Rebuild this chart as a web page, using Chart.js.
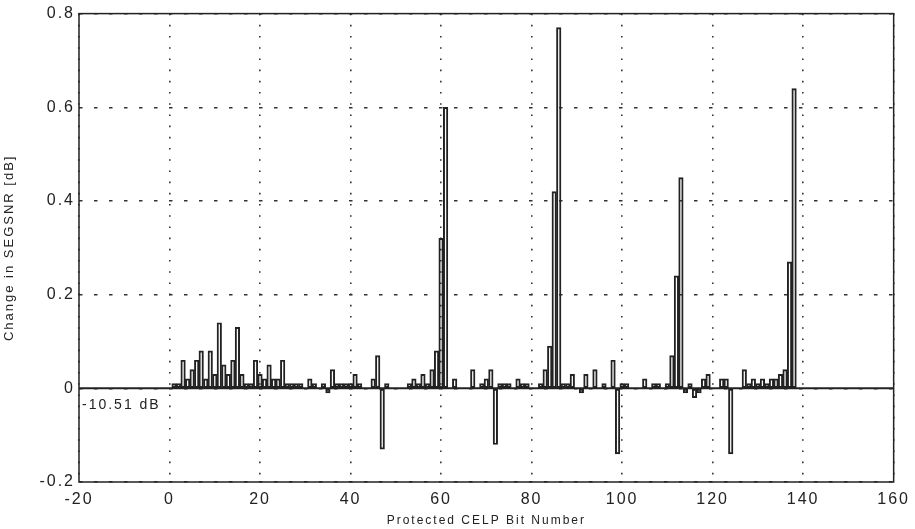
<!DOCTYPE html>
<html>
<head>
<meta charset="utf-8">
<script src="https://cdn.jsdelivr.net/npm/chart.js@4"></script>
<style>
  html, body { margin: 0; padding: 0; background: #ffffff; }
</style>
</head>
<body>
<canvas id="myChart" width="915" height="529"></canvas>
<script>
// bit numbers along the x axis
var bitNumbers = [
  1, 2, 3, 4, 5, 6, 7, 8, 9, 10,
  11, 12, 13, 14, 15, 16, 17, 18, 19, 20,
  21, 22, 23, 24, 25, 26, 27, 28, 29, 30,
  31, 32, 33, 34, 35, 36, 37, 38, 39, 40,
  41, 42, 43, 44, 45, 46, 47, 48, 49, 50,
  51, 52, 53, 54, 55, 56, 57, 58, 59, 60,
  61, 62, 63, 64, 65, 66, 67, 68, 69, 70,
  71, 72, 73, 74, 75, 76, 77, 78, 79, 80,
  81, 82, 83, 84, 85, 86, 87, 88, 89, 90,
  91, 92, 93, 94, 95, 96, 97, 98, 99, 100,
  101, 102, 103, 104, 105, 106, 107, 108, 109, 110,
  111, 112, 113, 114, 115, 116, 117, 118, 119, 120,
  121, 122, 123, 124, 125, 126, 127, 128, 129, 130,
  131, 132, 133, 134, 135, 136, 137, 138
];

// change in SEGSNR (dB) per protected bit
var snrChange = [
  0.01, 0.01, 0.06, 0.02, 0.04, 0.06, 0.08, 0.02, 0.08, 0.03,
  0.14, 0.05, 0.03, 0.06, 0.13, 0.03, 0.01, 0.01, 0.06, 0.03,
  0.02, 0.05, 0.02, 0.02, 0.06, 0.01, 0.01, 0.01, 0.01, 0,
  0.02, 0.01, 0, 0.01, -0.01, 0.04, 0.01, 0.01, 0.01, 0.01,
  0.03, 0.01, 0, 0, 0.02, 0.07, -0.13, 0.01, 0, 0,
  0, 0, 0.01, 0.02, 0.01, 0.03, 0.01, 0.04, 0.08, 0.32,
  0.60, 0, 0.02, 0, 0, 0, 0.04, 0, 0.01, 0.02,
  0.04, -0.12, 0.01, 0.01, 0.01, 0, 0.02, 0.01, 0.01, 0,
  0, 0.01, 0.04, 0.09, 0.42, 0.77, 0.01, 0.01, 0.03, 0,
  -0.01, 0.03, 0, 0.04, 0, 0.01, 0, 0.06, -0.14, 0.01,
  0.01, 0, 0, 0, 0.02, 0, 0.01, 0.01, 0, 0.01,
  0.07, 0.24, 0.45, -0.01, 0.01, -0.02, -0.01, 0.02, 0.03, 0,
  0, 0.02, 0.02, -0.14, 0, 0, 0.04, 0.01, 0.02, 0.01,
  0.02, 0.01, 0.02, 0.02, 0.03, 0.04, 0.27, 0.64
];

var xTicks = [-20, 0, 20, 40, 60, 80, 100, 120, 140, 160];
var yTicks = [-0.2, 0, 0.2, 0.4, 0.6, 0.8];
var noteText = '-10.51 dB';

var points = bitNumbers.map(function (b, i) { return { x: b, y: snrChange[i] }; });

var ink = '#222222';

// frame, zero line and the note text
var framePlugin = {
  id: 'framePlugin',
  beforeDraw: function (chart) {
    chart.ctx.letterSpacing = '2px';
  },
  afterDatasetsDraw: function (chart) {
    var ctx = chart.ctx;
    var a = chart.chartArea;
    var y0 = chart.scales.y.getPixelForValue(0);
    ctx.save();
    ctx.strokeStyle = ink;
    ctx.lineWidth = 2;
    ctx.beginPath();
    ctx.moveTo(a.left, y0);
    ctx.lineTo(a.right, y0);
    ctx.stroke();
    ctx.lineWidth = 1.5;
    ctx.strokeRect(a.left, a.top, a.right - a.left, a.bottom - a.top);
    ctx.fillStyle = ink;
    ctx.font = '14px "Liberation Sans", Arial, sans-serif';
    ctx.textBaseline = 'middle';
    ctx.textAlign = 'left';
    ctx.fillText(noteText, a.left + 3, chart.scales.y.getPixelForValue(-0.035));
    ctx.restore();
  }
};

var myChart = new Chart(
  document.getElementById('myChart'),
  {
    type: 'bar',
    data: {
      datasets: [{
        label: 'SEGSNR change',
        data: points,
        backgroundColor: 'rgba(0,0,0,0)',
        borderColor: ink,
        borderWidth: 1.3,
        borderSkipped: false,
        barPercentage: 1.0,
        categoryPercentage: 1.0
      }]
    },
    options: {
      responsive: false,
      animation: false,
      layout: { padding: { left: 0, right: 21, top: 13, bottom: 0 } },
      plugins: {
        legend: { display: false },
        tooltip: { enabled: false }
      },
      scales: {
        x: {
          type: 'linear',
          min: -20,
          max: 160,
          offset: false,
          afterBuildTicks: function (scale) {
            scale.ticks = xTicks.map(function (v) { return { value: v }; });
          },
          afterFit: function (scale) { scale.height = 47; },
          ticks: {
            color: ink,
            padding: 8,
            maxRotation: 0,
            font: { family: '"Liberation Sans", Arial, sans-serif', size: 16 },
            callback: function (v) { return String(v); }
          },
          grid: { color: '#333333', lineWidth: 1.6, drawTicks: false, offset: false },
          border: { display: false, dash: [1.6, 9.6] },
          title: {
            display: true,
            text: 'Protected CELP Bit Number',
            color: ink,
            padding: { top: 0, bottom: 1 },
            font: { family: '"Liberation Sans", Arial, sans-serif', size: 12 }
          }
        },
        y: {
          min: -0.2,
          max: 0.8,
          afterBuildTicks: function (scale) {
            scale.ticks = yTicks.map(function (v) { return { value: v }; });
          },
          afterFit: function (scale) { scale.width = 79; },
          ticks: {
            color: ink,
            padding: 4,
            font: { family: '"Liberation Sans", Arial, sans-serif', size: 16 },
            callback: function (v) { return v === 0 ? '0' : v.toFixed(1); }
          },
          grid: { color: '#333333', lineWidth: 1.4, drawTicks: false },
          border: { display: false, dash: [3.5, 11.5] },
          title: {
            display: true,
            text: 'Change in SEGSNR [dB]',
            color: ink,
            padding: { top: 2, bottom: 0 },
            font: { family: '"Liberation Sans Narrow", "Liberation Sans", sans-serif', size: 13 }
          }
        }
      }
    },
    plugins: [framePlugin]
  }
);
</script>
</body>
</html>
